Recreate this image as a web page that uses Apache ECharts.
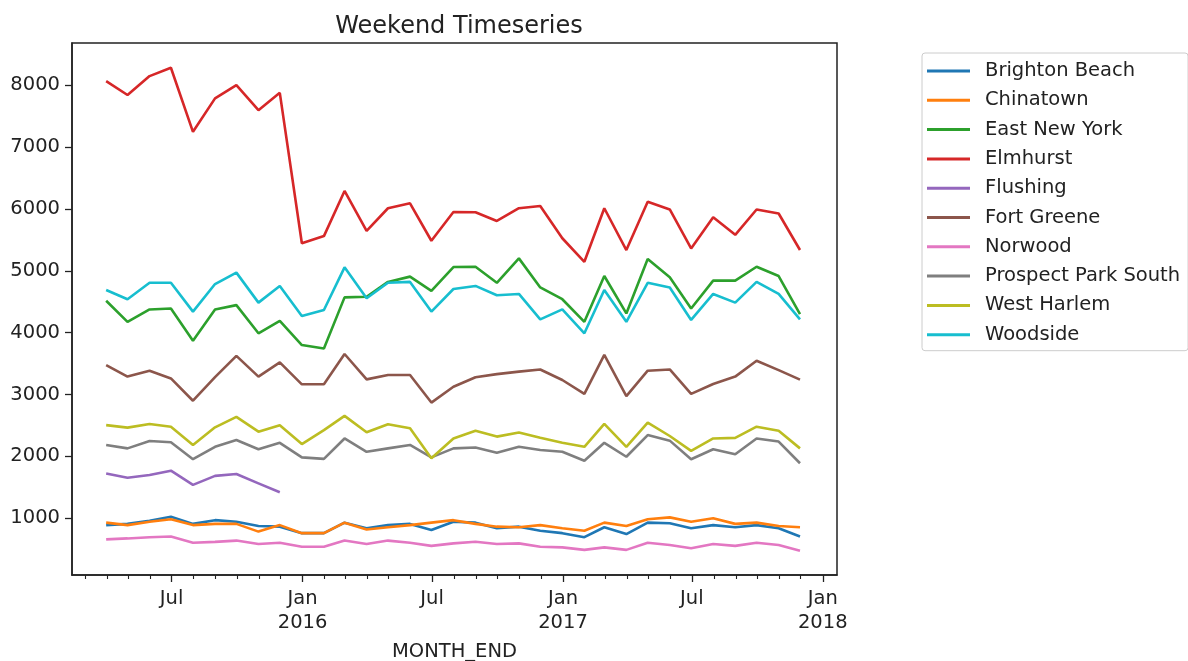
<!DOCTYPE html>
<html>
<head>
<meta charset="utf-8">
<script src="https://cdn.jsdelivr.net/npm/echarts@6/dist/echarts.min.js"></script>
<style>
  html, body { margin: 0; padding: 0; background: #fff; }
  #chart { width: 1188px; height: 661px; }
</style>
</head>
<body>
<div id="chart"></div>
<script>
// month end dates
var months = [
  '2015-03-31', '2015-04-30', '2015-05-31', '2015-06-30', '2015-07-31', '2015-08-31',
  '2015-09-30', '2015-10-31', '2015-11-30', '2015-12-31',
  '2016-01-31', '2016-02-29', '2016-03-31', '2016-04-30', '2016-05-31', '2016-06-30',
  '2016-07-31', '2016-08-31', '2016-09-30', '2016-10-31', '2016-11-30', '2016-12-31',
  '2017-01-31', '2017-02-28', '2017-03-31', '2017-04-30', '2017-05-31', '2017-06-30',
  '2017-07-31', '2017-08-31', '2017-09-30', '2017-10-31', '2017-11-30'
];

var brightonBeach = [890, 910, 960, 1025, 910, 970, 945, 875, 865, 760, 760, 930, 840, 890, 910, 810, 945, 930, 840, 865, 800, 760, 695, 855, 745, 930, 920, 840, 890, 855, 890, 840, 705];
var chinatown = [930, 890, 945, 985, 890, 910, 910, 785, 890, 760, 760, 930, 820, 855, 890, 930, 970, 910, 865, 855, 890, 840, 800, 930, 875, 985, 1015, 945, 1000, 910, 930, 875, 855];
var eastNewYork = [4515, 4175, 4375, 4390, 3870, 4375, 4445, 3990, 4190, 3800, 3745, 4570, 4580, 4820, 4905, 4675, 5060, 5065, 4805, 5200, 4730, 4540, 4175, 4915, 4310, 5190, 4895, 4390, 4840, 4840, 5065, 4915, 4300];
var elmhurst = [8065, 7840, 8145, 8280, 7245, 7785, 8000, 7595, 7875, 5445, 5560, 6290, 5645, 6010, 6090, 5485, 5950, 5945, 5805, 6010, 6045, 5525, 5145, 6010, 5335, 6115, 5990, 5360, 5865, 5580, 5990, 5925, 5335];
var flushing = [1725, 1655, 1700, 1770, 1540, 1685, 1715, 1565, 1420];
var fortGreene = [3475, 3290, 3385, 3260, 2900, 3280, 3625, 3290, 3520, 3165, 3165, 3655, 3245, 3315, 3315, 2870, 3125, 3280, 3330, 3370, 3405, 3235, 3010, 3640, 2975, 3385, 3405, 3010, 3170, 3290, 3545, 3395, 3240];
var norwood = [660, 675, 695, 705, 605, 620, 640, 585, 605, 540, 540, 640, 585, 640, 605, 555, 595, 620, 585, 595, 540, 530, 490, 530, 490, 605, 570, 515, 585, 555, 605, 570, 475];
var prospectParkSouth = [2185, 2130, 2250, 2230, 1955, 2155, 2265, 2115, 2220, 1985, 1960, 2290, 2075, 2130, 2185, 1985, 2130, 2145, 2060, 2155, 2105, 2075, 1930, 2220, 1995, 2345, 2255, 1955, 2115, 2035, 2290, 2240, 1890];
var westHarlem = [2505, 2465, 2525, 2480, 2185, 2470, 2640, 2400, 2505, 2200, 2425, 2655, 2390, 2520, 2455, 1970, 2290, 2415, 2320, 2385, 2300, 2220, 2155, 2525, 2155, 2545, 2330, 2090, 2290, 2300, 2480, 2415, 2130];
var woodside = [4690, 4540, 4805, 4805, 4340, 4785, 4970, 4485, 4755, 4270, 4365, 5055, 4555, 4805, 4820, 4340, 4705, 4755, 4605, 4625, 4215, 4375, 3990, 4690, 4175, 4805, 4730, 4205, 4625, 4485, 4820, 4625, 4215];

var names = ['Brighton Beach', 'Chinatown', 'East New York', 'Elmhurst', 'Flushing',
  'Fort Greene', 'Norwood', 'Prospect Park South', 'West Harlem', 'Woodside'];
var values = [brightonBeach, chinatown, eastNewYork, elmhurst, flushing,
  fortGreene, norwood, prospectParkSouth, westHarlem, woodside];
var colors = ['#1f77b4', '#ff7f0e', '#2ca02c', '#d62728', '#9467bd',
  '#8c564b', '#e377c2', '#7f7f7f', '#bcbd22', '#17becf'];

var yTicks = [1000, 2000, 3000, 4000, 5000, 6000, 7000, 8000];
var majorTicks = ['2015-07-01', '2016-01-01', '2016-07-01', '2017-01-01', '2017-07-01', '2018-01-01'];
var minorTicks = ['2015-03-01', '2015-04-01', '2015-05-01', '2015-06-01', '2015-08-01', '2015-09-01',
  '2015-10-01', '2015-11-01', '2015-12-01', '2016-02-01', '2016-03-01', '2016-04-01', '2016-05-01',
  '2016-06-01', '2016-08-01', '2016-09-01', '2016-10-01', '2016-11-01', '2016-12-01', '2017-02-01',
  '2017-03-01', '2017-04-01', '2017-05-01', '2017-06-01', '2017-08-01', '2017-09-01', '2017-10-01',
  '2017-11-01', '2017-12-01'];

function ts(s) {
  var p = s.split('-');
  return Date.UTC(+p[0], +p[1] - 1, +p[2]);
}

var FONT = 'DejaVu Sans';
var FS = 19.5;
var xMin = ts('2015-02-11');
var xMax = ts('2018-01-21');
var chart = echarts.init(document.getElementById('chart'), null, { renderer: 'canvas' });

var series = [];
for (var s = 0; s < names.length; s++) {
  var pts = [];
  for (var i = 0; i < values[s].length; i++) {
    pts.push([ts(months[i]), values[s][i]]);
  }
  series.push({
    name: names[s],
    type: 'line',
    data: pts,
    showSymbol: false,
    symbol: 'none',
    color: colors[s],
    lineStyle: { width: 2.6, color: colors[s] }
  });
}

chart.setOption({
  animation: false,
  title: {
    text: 'Weekend Timeseries',
    left: 454,
    textAlign: 'center',
    top: 10,
    textStyle: { fontFamily: FONT, fontSize: 24, fontWeight: 'normal', color: '#222' }
  },
  legend: {
    orient: 'vertical',
    left: 922,
    top: 53,
    padding: [8, 8, 6, 5],
    itemGap: 9.3,
    itemWidth: 43,
    itemHeight: 3,
    icon: 'rect',
    borderColor: '#cccccc',
    borderWidth: 1,
    borderRadius: 3,
    textStyle: { fontFamily: FONT, fontSize: FS, color: '#222', lineHeight: 20, padding: [0, 0, 0, 10] },
    data: names
  },
  grid: {
    left: 72, top: 43, width: 765, height: 532,
    outerBoundsMode: 'none',
    containLabel: false,
    show: true, borderColor: '#222', borderWidth: 1.5, backgroundColor: 'transparent'
  },
  xAxis: [{
    type: 'value',
    min: xMin,
    max: xMax,
    name: 'MONTH_END',
    nameLocation: 'middle',
    nameGap: 67,
    nameTextStyle: { fontFamily: FONT, fontSize: FS, color: '#222' },
    axisLine: { show: true, lineStyle: { color: '#222', width: 1.5 } },
    axisTick: { show: true, length: 7, lineStyle: { color: '#222', width: 1.3 },
      customValues: majorTicks.map(ts) },
    axisLabel: {
      fontFamily: FONT, fontSize: FS, color: '#222', margin: 12, lineHeight: 24,
      customValues: majorTicks.map(ts),
      showMinLabel: true, showMaxLabel: true, hideOverlap: false,
      formatter: function (v) {
        var d = new Date(v);
        if (d.getUTCMonth() === 0) return 'Jan\n' + d.getUTCFullYear();
        return 'Jul';
      }
    },
    splitLine: { show: false }
  }, {
    type: 'value',
    min: xMin,
    max: xMax,
    position: 'bottom',
    axisLine: { show: false },
    axisTick: { show: true, length: 4, lineStyle: { color: '#222', width: 1.1 },
      customValues: minorTicks.map(ts) },
    axisLabel: { show: false },
    splitLine: { show: false }
  }],
  yAxis: {
    type: 'value',
    min: 84,
    max: 8680,
    axisLine: { show: true, lineStyle: { color: '#222', width: 1.5 } },
    axisTick: { show: true, length: 7, lineStyle: { color: '#222', width: 1.3 }, customValues: yTicks },
    axisLabel: {
      fontFamily: FONT, fontSize: FS, color: '#222', margin: 12, customValues: yTicks,
      showMinLabel: true, showMaxLabel: true,
      formatter: function (v) { return String(v); }
    },
    splitLine: { show: false }
  },
  series: series
});
</script>
</body>
</html>
